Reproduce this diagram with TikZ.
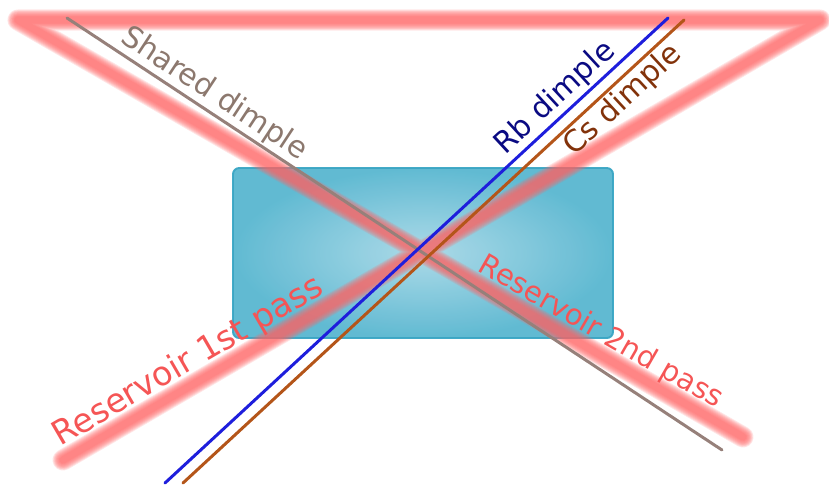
\documentclass[tikz,border=0pt]{standalone}
\usepackage{fontspec}
\setmainfont{DejaVu Sans}
\definecolor{resred}{RGB}{255,100,100}
\definecolor{restext}{RGB}{245,85,85}
\definecolor{cellin}{RGB}{168,216,230}
\definecolor{cellout}{RGB}{88,182,208}
\definecolor{celledge}{RGB}{58,166,196}
\definecolor{sharedline}{RGB}{150,128,122}
\definecolor{sharedtext}{RGB}{140,120,110}
\definecolor{rbline}{RGB}{30,30,220}
\definecolor{rbtext}{RGB}{10,10,130}
\definecolor{csline}{RGB}{180,85,25}
\definecolor{cstext}{RGB}{130,50,10}
\tikzset{
	beam/.style = {line width=1.7pt, line cap=round},
	lbl/.style = {sloped, font=\fontsize{17}{20}\selectfont, inner sep=1pt}
}
\begin{document}
\begin{tikzpicture}[x=0.02cm, y=-0.02cm]
			\useasboundingbox (0,0) rectangle (829,484);
			
			% Glass cell
			\shade[draw=celledge, line width=1.1pt, rounded corners=3.5pt, inner color=cellin, outer color=cellout, opacity=0.95]
				(233,168) rectangle (613,338);
			
			% Reservoir beam
			\coordinate (r1) at (63,460);
			\coordinate (rc1) at (820,20);
			\coordinate (rc2) at (18,20);
			\coordinate (r2) at (743,437);
			\foreach \w in {12,11,10,9,8,7,6,5,4}
				\draw[resred, line width=\w pt, opacity=0.16, line join=round, line cap=round]
					(r1) -- (rc1) -- (rc2) -- (r2);
			\path (r1) -- node[lbl, pos=0.18, above=2pt, text=restext, font=\fontsize{19}{22}\selectfont] {Reservoir 1st pass} (rc1);
			\path (rc2) -- node[lbl, pos=0.79, above=2pt, text=restext, font=\fontsize{16.5}{20}\selectfont] {Reservoir 2nd pass} (r2);
			
			% Shared dimple
			\coordinate (s1) at (67,18);
			\coordinate (s2) at (722,450);
			\draw[beam, sharedline] (s1) -- node[lbl, pos=0.21, above, text=sharedtext] {Shared dimple} (s2);
			
			% Rb dimple
			\coordinate (rb1) at (165,483);
			\coordinate (rb2) at (668,18);
			\draw[beam, rbline] (rb1) -- node[lbl, pos=0.8, above, text=rbtext] {Rb dimple} (rb2);
			
			% Cs dimple
			\coordinate (cs1) at (183,483);
			\coordinate (cs2) at (684,20);
			\draw[beam, csline] (cs1) -- node[lbl, pos=0.855, below, text=cstext] {Cs dimple} (cs2);
		\end{tikzpicture}
\end{document}
